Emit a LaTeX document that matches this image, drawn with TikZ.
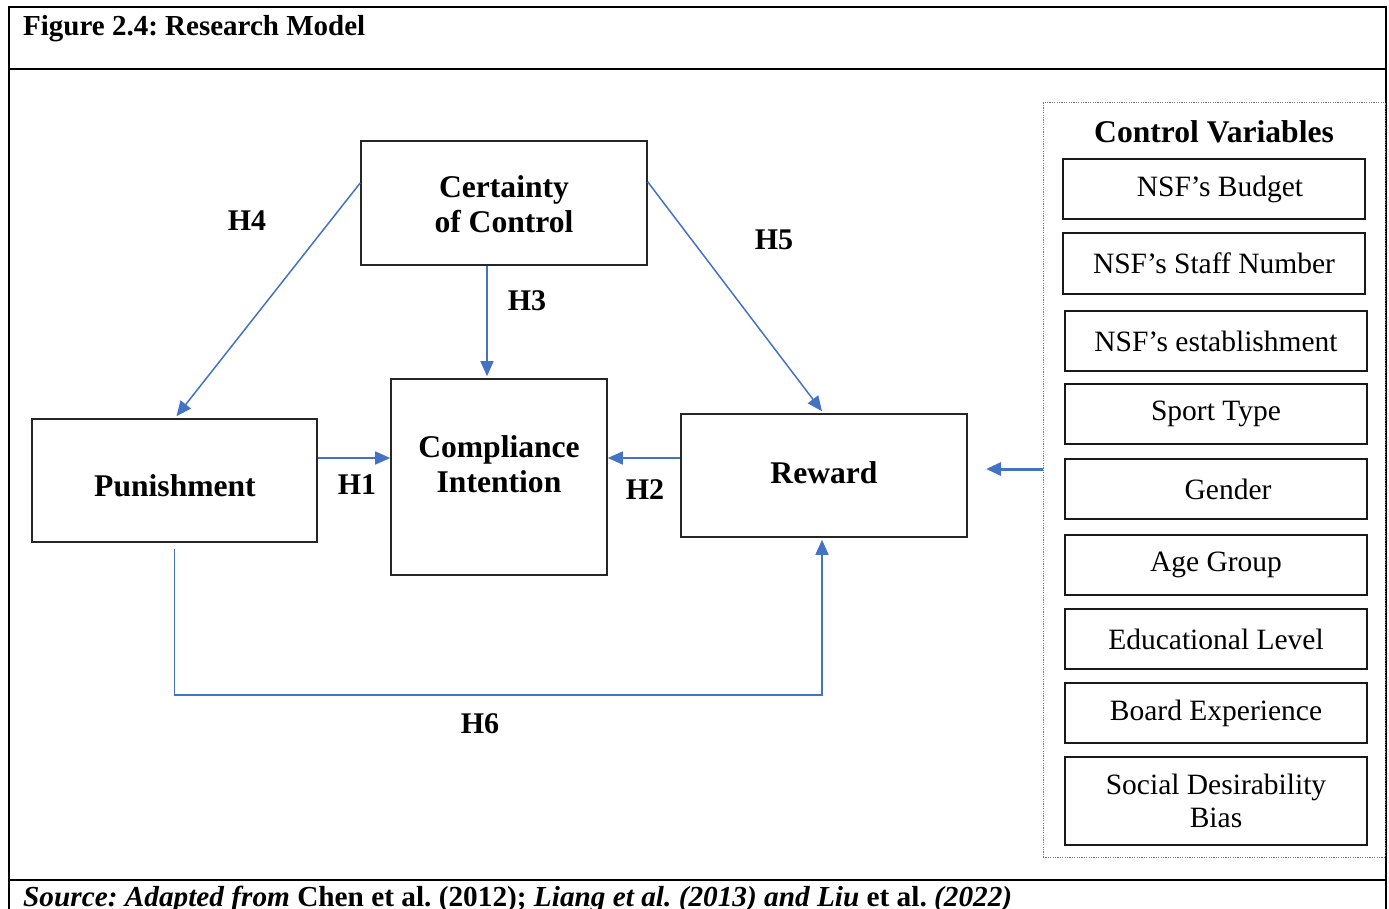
\documentclass[tikz,border=0pt]{standalone}
\usepackage{fontspec}
\setmainfont{Liberation Serif}
\usepackage{graphicx}
\usetikzlibrary{arrows.meta,calc}
\definecolor{linkblue}{HTML}{4472C4}
\frenchspacing
\begin{document}
\begin{tikzpicture}[x=1pt,y=-1pt,
  frame/.style={line width=2.6pt, black, line join=miter},
  box/.style={draw=black!85, line width=1.6pt, inner sep=0pt},
  cvbox/.style={draw=black!90, line width=2pt, inner sep=0pt, minimum width=302pt,
    minimum height=60pt, font=\fontsize{29.5}{33}\selectfont, align=center},
  boldtxt/.style={font=\fontsize{31.6}{35}\selectfont\bfseries, align=center, inner sep=0pt},
  hyp/.style={font=\fontsize{30}{34}\selectfont\bfseries, inner sep=0pt, anchor=base},
  link/.style={draw=linkblue, line width=1.5pt, line join=miter,
    -{Triangle[length=15pt,width=13pt]}},
]
\useasboundingbox (0,0) rectangle (1389,909);
\begin{scope}
\clip (0,0) rectangle (1389,909);

% outer frame with title and source rows
\draw[frame] (9,912) -- (9,7) -- (1386,7) -- (1386,912);
\draw[frame] (9,69) -- (1386,69);
\draw[frame] (9,880) -- (1386,880);

\node[font=\fontsize{29}{33}\selectfont\bfseries, anchor=base west, inner sep=0pt]
  (title) at (23,36) {Figure 2.4: Research Model};
\node[font=\fontsize{29}{33}\selectfont\bfseries, anchor=base west, inner sep=0pt]
  (src) at (23,906) {\resizebox{989pt}{\height}{\textit{Source: Adapted from} Chen et al. (2012); \textit{Liang et al. (2013) and Liu} et al. \textit{(2022)}}};

% constructs
\node[box, minimum width=286pt, minimum height=124pt] (cert) at (504,203) {};
\node[boldtxt] (cert-t) at (504,204) {Certainty\\of Control};
\node[box, minimum width=216pt, minimum height=196pt] (comp) at (499,477) {};
\node[boldtxt] (comp-t) at (499,464) {Compliance\\Intention};
\node[box, minimum width=285pt, minimum height=123pt] (pun) at (174.5,480.5) {};
\node[boldtxt, anchor=base] (pun-t) at (175,496) {Punishment};
\node[box, minimum width=286pt, minimum height=123pt] (rew) at (824,475.5) {};
\node[boldtxt, anchor=base] (rew-t) at (824,483) {Reward};

% control variables panel
\node[draw=black!55, dash pattern=on 1.2pt off 1.2pt, line width=1pt, inner sep=0pt,
  minimum width=342pt, minimum height=754pt] (ctrl) at (1214,480) {};
\node[boldtxt, anchor=base] (ctrl-t) at (1214,143) {Control Variables};
\node[cvbox] (cv1) at (1214,189) {\hspace*{12pt}NSF’s Budget};
\node[cvbox, minimum height=61pt] (cv2) at (1214,263.5) {NSF’s Staff Number};
\node[cvbox] (cv3) at (1216,341) {NSF’s establishment};
\node[cvbox] (cv4) at (1216,414) {Sport Type};
\node[cvbox] (cv5) at (1216,489) {\hspace*{24pt}Gender};
\node[cvbox] (cv6) at (1216,565) {Age Group};
\node[cvbox] (cv7) at (1216,639) {Educational Level};
\node[cvbox] (cv8) at (1216,713) {Board Experience};
\node[cvbox, minimum height=88pt] (cv9) at (1216,801) {Social Desirability\\Bias};

% hypothesised paths
\draw[link] ($(cert.west)+(0,-20)$) -- ($(pun.north)+(2,-2)$);
\draw[link] ($(cert.east)+(0,-21)$) -- ($(rew.north)+(-2,-2)$);
\draw[link] ($(cert.south)+(-17,0)$) -- ($(comp.north)+(-12,-2)$);
\coordinate (h1s) at ($(pun.east)+(0,-22.5)$);
\draw[link] (h1s) -- (h1s -| comp.west);
\coordinate (h2s) at ($(rew.west)+(0,-17.5)$);
\draw[link] (h2s) -- (h2s -| comp.east);
\draw[link] ($(pun.south)+(0,6)$) |- ($(rew.south)+(-2,157)$) -- ($(rew.south)+(-2,2)$);

% control variables feed into reward
\coordinate (cv-tip) at (986,469);
\draw[link, line width=3pt] ($(ctrl.west)+(0,-11)$) -- (cv-tip);

% hypothesis labels
\node[hyp] (h4) at (247,231) {H4};
\node[hyp] (h5) at (774,250) {H5};
\node[hyp] (h3) at (527,310) {H3};
\node[hyp] (h1) at (357,494) {H1};
\node[hyp] (h2) at (645,499) {H2};
\node[hyp] (h6) at (480,733) {H6};
\end{scope}
\end{tikzpicture}
\end{document}
